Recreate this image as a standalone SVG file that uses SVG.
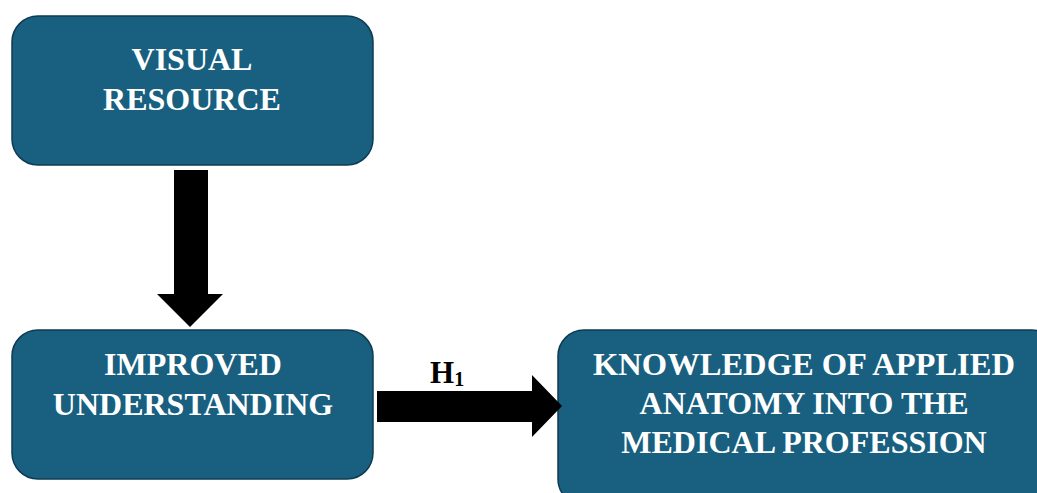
<svg xmlns="http://www.w3.org/2000/svg" width="1037" height="493" viewBox="0 0 1037 493">
<style>
.box{fill:#185f80;stroke:#0e3b52;stroke-width:1.5}
.t{font-family:"Liberation Serif","Times New Roman",serif;font-weight:bold;font-size:32px;fill:#ffffff;text-anchor:middle}
.lbl{font-family:"Liberation Serif","Times New Roman",serif;font-weight:bold;fill:#000000}
.arr{fill:#000000}
</style>
<rect width="1037" height="493" fill="#ffffff"/>
<g id="visual-resource">
<rect class="box" x="12" y="16" width="361" height="149" rx="26" ry="26"/>
<text class="t" x="192" y="70">VISUAL</text>
<text class="t" x="192" y="110">RESOURCE</text>
</g>
<g id="improved-understanding">
<rect class="box" x="12" y="330" width="361" height="149" rx="26" ry="26"/>
<text class="t" x="193" y="375">IMPROVED</text>
<text class="t" x="193" y="415">UNDERSTANDING</text>
</g>
<g id="knowledge">
<rect class="box" x="558" y="330" width="500" height="175" rx="26" ry="26"/>
<text class="t" x="804" y="375" textLength="422" lengthAdjust="spacingAndGlyphs">KNOWLEDGE OF APPLIED</text>
<text class="t" x="804" y="414">ANATOMY INTO THE</text>
<text class="t" x="804" y="453">MEDICAL PROFESSION</text>
</g>
<g id="connectors">
<polygon class="arr" points="174,170 208,170 208,294 223,294 190,327 157,294 174,294"/>
<polygon class="arr" points="377,391 532,391 532,375 562,406 532,437 532,422 377,422"/>
<text class="lbl" x="430" y="383" font-size="31">H<tspan font-size="20" dy="3">1</tspan></text>
</g>
</svg>
